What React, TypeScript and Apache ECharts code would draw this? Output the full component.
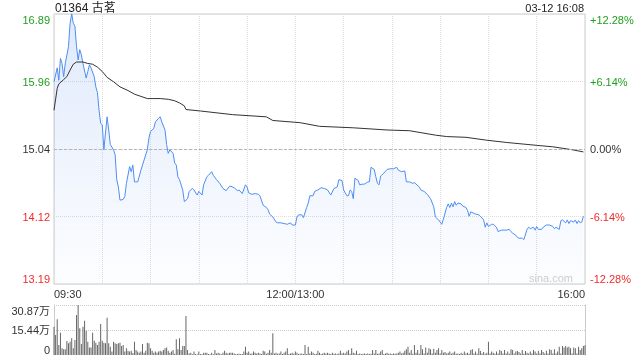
import React, { useEffect, useRef } from 'react';
import * as echarts from 'echarts';

const stockTitle = '01364 古茗';
const timestamp = '03-12 16:08';
const watermark = 'sina.com';
const prevClose = 15.04;
const priceTickLabels = ['13.19', '14.12', '15.04', '15.96', '16.89'];
const pctTickLabels = ['-12.28%', '-6.14%', '0.00%', '+6.14%', '+12.28%'];
const timeTickLabels: Record<number, string> = { 0: '09:30', 150: '12:00/13:00', 330: '16:00' };
const volTickLabels = ['0', '15.44万', '30.87万'];
const volMax = 30.87;

// minutes since 09:30 (lunch break removed) and last price
const priceMinutes = [
  0, 2, 3, 4, 5, 6, 7, 9, 10, 11, 12, 13, 14, 15, 16, 17, 18, 20, 21, 22, 23, 25, 26, 27, 28, 29, 30, 31, 32, 33,
  34, 35, 37, 38, 39, 40, 41, 43, 44, 45, 47, 48, 49, 50, 52, 54, 55, 56, 58, 59, 60, 62, 63, 65, 66, 67, 69, 70,
  71, 72, 74, 75, 76, 77, 78, 80, 81, 83, 84, 86, 87, 89, 90, 92, 93, 95, 96, 98, 99, 101, 103, 105, 107, 109, 110,
  112, 114, 115, 117, 119, 120, 121, 123, 125, 127, 128, 130, 132, 133, 134, 136, 138, 139, 141, 143, 145, 147, 148,
  150, 151, 152, 154, 155, 157, 158, 159, 161, 162, 164, 166, 168, 170, 172, 174, 176, 177, 179, 180, 182, 183, 184,
  185, 186, 187, 189, 190, 192, 193, 195, 196, 197, 199, 200, 201, 202, 203, 205, 207, 209, 211, 213, 214, 216, 218,
  219, 221, 223, 224, 227, 228, 230, 232, 234, 236, 237, 239, 241, 242, 244, 245, 246, 247, 248, 249, 250, 251, 253,
  254, 256, 257, 258, 259, 261, 262, 264, 265, 267, 268, 269, 270, 272, 273, 275, 276, 278, 281, 283, 284, 285, 287,
  288, 289, 291, 292, 294, 295, 296, 298, 299, 300, 301, 303, 304, 306, 308, 310, 311, 312, 314, 315, 316, 318, 319,
  320, 321, 323, 324, 325, 326, 327, 328, 329,
];
const prices = [
  15.96, 16.15, 15.98, 16.28, 16.21, 16.03, 16.21, 16.44, 16.76, 16.89, 16.76, 16.72, 16.44, 16.26, 16.4, 16.33,
  16.21, 16.01, 16.1, 16.19, 16.15, 16.03, 15.89, 15.81, 15.57, 15.39, 15.37, 15.03, 15.26, 15.48, 15.3, 15.1, 15.03,
  14.96, 14.62, 14.52, 14.34, 14.35, 14.39, 14.57, 14.8, 14.73, 14.82, 14.59, 14.59, 14.75, 14.82, 14.89, 15.03,
  15.19, 15.28, 15.32, 15.41, 15.46, 15.48, 15.41, 15.3, 15.1, 14.98, 15.03, 14.98, 14.85, 14.82, 14.66, 14.62,
  14.48, 14.32, 14.36, 14.46, 14.5, 14.48, 14.41, 14.46, 14.41, 14.55, 14.66, 14.68, 14.73, 14.68, 14.62, 14.57,
  14.5, 14.47, 14.53, 14.53, 14.51, 14.47, 14.48, 14.43, 14.55, 14.52, 14.44, 14.42, 14.43, 14.42, 14.4, 14.27,
  14.24, 14.21, 14.15, 14.11, 14.04, 14.03, 14.03, 14.02, 14.01, 14.03, 14.0, 14.0, 14.11, 14.14, 14.14, 14.1,
  14.24, 14.3, 14.4, 14.4, 14.46, 14.48, 14.51, 14.5, 14.48, 14.41, 14.5, 14.52, 14.62, 14.61, 14.48, 14.4, 14.4,
  14.48, 14.46, 14.36, 14.64, 14.61, 14.55, 14.56, 14.56, 14.59, 14.59, 14.79, 14.76, 14.66, 14.57, 14.55, 14.67,
  14.71, 14.76, 14.77, 14.77, 14.79, 14.75, 14.73, 14.74, 14.59, 14.59, 14.57, 14.58, 14.52, 14.48, 14.46, 14.42,
  14.36, 14.25, 14.11, 14.07, 14.01, 14.08, 14.24, 14.29, 14.24, 14.3, 14.25, 14.32, 14.27, 14.3, 14.29, 14.26,
  14.24, 14.2, 14.12, 14.18, 14.16, 14.15, 14.14, 14.12, 14.07, 13.97, 14.03, 13.98, 14.01, 14.01, 13.97, 13.91,
  13.93, 13.93, 13.94, 13.91, 13.89, 13.86, 13.83, 13.82, 13.82, 13.8, 13.94, 13.97, 13.95, 13.97, 13.93, 13.98,
  13.94, 13.94, 13.97, 14.0, 14.0, 13.98, 13.95, 13.97, 13.94, 14.06, 14.07, 14.03, 14.07, 14.02, 14.06, 14.04,
  14.07, 14.02, 14.06, 14.03, 14.04, 14.12,
];

const avgMinutes = [
  0, 2, 3, 6, 8, 10, 12, 14, 18, 21, 24, 27, 30, 33, 37, 41, 46, 50, 54, 58, 62, 66, 71, 75, 78, 81, 82, 91, 111,
  132, 136, 153, 165, 186, 207, 221, 237, 244, 256, 269, 281, 300, 310, 322, 329,
];
const avgPrices = [
  15.57, 15.87, 15.93, 15.99, 16.03, 16.12, 16.2, 16.23, 16.23, 16.21, 16.2, 16.16, 16.1, 16.02, 15.96, 15.89,
  15.84, 15.79, 15.76, 15.73, 15.73, 15.73, 15.72, 15.7, 15.67, 15.63, 15.58, 15.56, 15.51, 15.48, 15.43, 15.4,
  15.35, 15.33, 15.3, 15.29, 15.23, 15.21, 15.2, 15.16, 15.13, 15.09, 15.07, 15.03, 15.0,
];

// volume per minute, in 万 shares
const volumes = [
  17.5, 12.3, 22.0, 6.2, 13.8, 4.1, 3.5, 3.5, 8.6, 7.2,
  8.2, 10.3, 4.1, 9.3, 24.7, 30.9, 16.5, 6.8, 17.5, 21.2,
  15.0, 8.2, 4.7, 4.7, 13.8, 8.8, 7.6, 6.2, 8.2, 19.1,
  8.8, 7.6, 7.2, 23.0, 7.2, 5.1, 2.1, 8.2, 7.2, 6.8,
  7.2, 7.6, 5.6, 6.2, 2.1, 4.1, 2.7, 2.1, 2.7, 1.2,
  8.2, 3.1, 2.1, 1.4, 2.1, 6.8, 1.4, 2.7, 7.6, 7.2,
  4.1, 2.7, 1.4, 2.1, 1.4, 2.1, 2.7, 2.1, 3.1, 4.1,
  4.7, 2.7, 1.4, 2.1, 3.1, 0.8, 9.7, 3.5, 10.3, 3.1,
  5.6, 5.6, 24.1, 3.1, 1.0, 1.4, 0.5, 2.1, 0.6, 0.5,
  2.1, 0.6, 0.5, 1.4, 1.4, 1.4, 0.6, 0.5, 1.4, 0.5,
  3.1, 1.0, 1.4, 1.0, 0.5, 1.4, 2.7, 1.4, 1.0, 1.4,
  1.4, 1.4, 1.0, 0.6, 0.6, 0.8, 0.6, 0.6, 2.1, 5.1,
  1.4, 2.1, 0.8, 1.0, 2.1, 1.4, 1.0, 1.4, 1.0, 0.6,
  2.7, 2.1, 0.8, 1.4, 3.1, 1.4, 13.4, 1.0, 1.4, 0.8,
  1.0, 2.1, 0.6, 1.4, 2.1, 4.1, 0.6, 1.0, 1.4, 0.8,
  2.1, 1.4, 0.6, 0.8, 1.0, 0.6, 6.2, 0.6, 5.1, 1.0,
  2.1, 1.4, 0.6, 0.8, 2.7, 1.4, 0.6, 1.0, 1.4, 1.0,
  1.4, 1.0, 0.6, 1.4, 0.8, 1.0, 0.6, 1.0, 2.7, 1.0,
  1.4, 1.0, 2.1, 3.1, 0.8, 4.1, 1.4, 1.0, 2.7, 0.6,
  1.0, 0.6, 0.8, 1.0, 0.6, 1.0, 0.6, 0.8, 3.1, 1.0,
  3.1, 0.8, 1.0, 2.1, 3.1, 0.6, 1.0, 1.4, 0.8, 1.0,
  0.6, 1.0, 0.8, 1.0, 1.4, 2.1, 1.0, 1.4, 2.7, 3.5,
  5.1, 1.4, 3.1, 0.8, 6.2, 1.4, 3.1, 0.8, 6.2, 3.5,
  1.0, 4.7, 1.4, 4.1, 3.5, 1.0, 3.9, 1.4, 3.1, 4.1,
  1.0, 3.1, 1.4, 1.8, 1.0, 1.4, 2.1, 0.8, 1.4, 2.1,
  0.8, 1.0, 0.6, 1.4, 0.8, 2.1, 1.0, 1.4, 0.8, 3.1,
  3.5, 1.0, 2.1, 0.8, 4.1, 2.5, 1.0, 1.8, 0.8, 1.4,
  8.2, 1.0, 2.1, 1.4, 0.8, 2.1, 1.0, 3.1, 2.5, 1.0,
  3.1, 1.0, 2.1, 0.8, 3.5, 3.1, 1.0, 2.1, 2.5, 1.8,
  1.0, 3.1, 0.8, 2.5, 1.4, 1.0, 2.1, 1.0, 3.1, 2.1,
  1.0, 2.7, 1.0, 3.1, 1.8, 1.0, 2.7, 1.0, 3.5, 3.1,
  1.0, 3.5, 1.0, 2.1, 5.1, 1.0, 5.6, 4.7, 5.6, 4.7,
  5.1, 4.1, 1.0, 4.7, 4.1, 1.0, 5.1, 3.1, 4.1, 5.6, 6.0,
];

const FONT = '"Liberation Sans", Arial, "Noto Sans CJK SC", sans-serif';
const GREEN = '#1f9f1f';
const RED = '#ee2b2b';
const DARK = '#333333';

export default function App() {
  const ref = useRef<HTMLDivElement>(null);

  useEffect(() => {
    if (!ref.current) return;
    const chart = echarts.init(ref.current, null, { renderer: 'svg' });
    const toPct = (p: number) => ((p - prevClose) / prevClose) * 100;
    const pctIndex = (v: number) => Math.round(v / 6.14) + 2;
    const pctColor = (v: number) => (v < -0.01 ? RED : v > 0.01 ? GREEN : DARK);

    const priceData = priceMinutes.map((m, i) => [m, toPct(prices[i])]);
    const avgData = avgMinutes.map((m, i) => [m, toPct(avgPrices[i])]);
    const volData = volumes.map((v, i) => [i, v]);

    const option: any = {
      animation: false,
      grid: [
        { left: 54, right: 55, top: 14, height: 270, show: true, borderColor: '#cccccc', borderWidth: 1, backgroundColor: 'transparent' },
        { left: 54, right: 55, top: 305, height: 50 },
      ],
      xAxis: [
        {
          type: 'value', gridIndex: 0, min: 0, max: 330, interval: 30,
          axisLine: { show: false }, axisTick: { show: false },
          splitLine: { show: true, lineStyle: { color: '#dddddd', type: 'dotted', width: 1 } },
          axisLabel: {
            formatter: (v: number) => timeTickLabels[Math.round(v)] ?? '',
            color: DARK, fontFamily: FONT, fontSize: 11, margin: 4,
            showMinLabel: true, showMaxLabel: true,
            alignMinLabel: 'left', alignMaxLabel: 'right',
          },
        },
        {
          type: 'value', gridIndex: 1, min: 0, max: 330, interval: 30,
          axisLine: { show: false }, axisTick: { show: false }, axisLabel: { show: false }, splitLine: { show: false },
        },
      ],
      yAxis: [
        {
          type: 'value', gridIndex: 0, position: 'left', min: -12.28, max: 12.28, interval: 6.14,
          axisLine: { show: false }, axisTick: { show: false },
          splitLine: { show: true, lineStyle: { color: '#dddddd', type: 'dotted', width: 1 } },
          axisLabel: {
            formatter: (v: number) => priceTickLabels[pctIndex(v)] ?? '',
            color: (v: any) => pctColor(Number(v)),
            fontFamily: FONT, fontSize: 11, margin: 4,
            verticalAlignMinLabel: 'bottom', verticalAlignMaxLabel: 'top',
          },
        },
        {
          type: 'value', gridIndex: 0, position: 'right', min: -12.28, max: 12.28, interval: 6.14,
          axisLine: { show: false }, axisTick: { show: false }, splitLine: { show: false },
          axisLabel: {
            formatter: (v: number) => pctTickLabels[pctIndex(v)] ?? '',
            color: (v: any) => pctColor(Number(v)),
            fontFamily: FONT, fontSize: 11, margin: 5,
            verticalAlignMinLabel: 'bottom', verticalAlignMaxLabel: 'top',
          },
        },
        {
          type: 'value', gridIndex: 1, position: 'left', min: 0, max: volMax, interval: volMax / 2,
          axisLine: { show: true, lineStyle: { color: '#cccccc' } }, axisTick: { show: false },
          splitLine: { show: true, showMinLine: false, lineStyle: { color: '#cccccc', type: 'dotted', width: 1 } },
          axisLabel: {
            formatter: (v: number) => volTickLabels[Math.round(v / (volMax / 2))] ?? '',
            color: DARK, fontFamily: FONT, fontSize: 11, margin: 4,
            verticalAlignMinLabel: 'bottom', verticalAlignMaxLabel: 'top',
          },
        },
        {
          type: 'value', gridIndex: 1, position: 'right', min: 0, max: volMax, interval: volMax / 2,
          axisLine: { show: true, lineStyle: { color: '#cccccc' } }, axisTick: { show: false },
          axisLabel: { show: false }, splitLine: { show: false },
        },
      ],
      series: [
        {
          type: 'line', name: 'price', xAxisIndex: 0, yAxisIndex: 0, data: priceData,
          showSymbol: false, symbol: 'none',
          lineStyle: { color: '#4f8ef2', width: 1 },
          areaStyle: {
            origin: 'start',
            color: new echarts.graphic.LinearGradient(0, 0, 0, 1, [
              { offset: 0, color: 'rgba(70,130,235,0.24)' },
              { offset: 1, color: 'rgba(70,130,235,0.02)' },
            ]),
          },
          markLine: {
            silent: true, symbol: 'none', label: { show: false },
            lineStyle: { color: '#b5b5b5', type: [3, 2], width: 1 },
            data: [{ yAxis: 0 }],
          },
          z: 3,
        },
        {
          type: 'line', name: 'avg', xAxisIndex: 0, yAxisIndex: 0, data: avgData,
          showSymbol: false, symbol: 'none',
          lineStyle: { color: '#333333', width: 1 },
          z: 4,
        },
        {
          type: 'bar', name: 'volume', xAxisIndex: 1, yAxisIndex: 2, data: volData,
          barWidth: 1, itemStyle: { color: '#666666' },
        },
      ],
      graphic: [
        { type: 'text', x: 55, y: 8, style: { text: stockTitle, font: `12px ${FONT}`, fill: '#222', align: 'left', verticalAlign: 'middle' } },
        { type: 'text', x: 584, y: 8, style: { text: timestamp, font: `11px ${FONT}`, fill: '#222', align: 'right', verticalAlign: 'middle' } },
        { type: 'text', x: 573, y: 278, style: { text: watermark, font: `11px ${FONT}`, fill: '#cfcfcf', align: 'right', verticalAlign: 'middle' } },
      ],
    };
    chart.setOption(option);
    return () => chart.dispose();
  }, []);

  return <div ref={ref} style={{ position: 'fixed', left: 0, top: 0, width: 640, height: 360 }} />;
}
